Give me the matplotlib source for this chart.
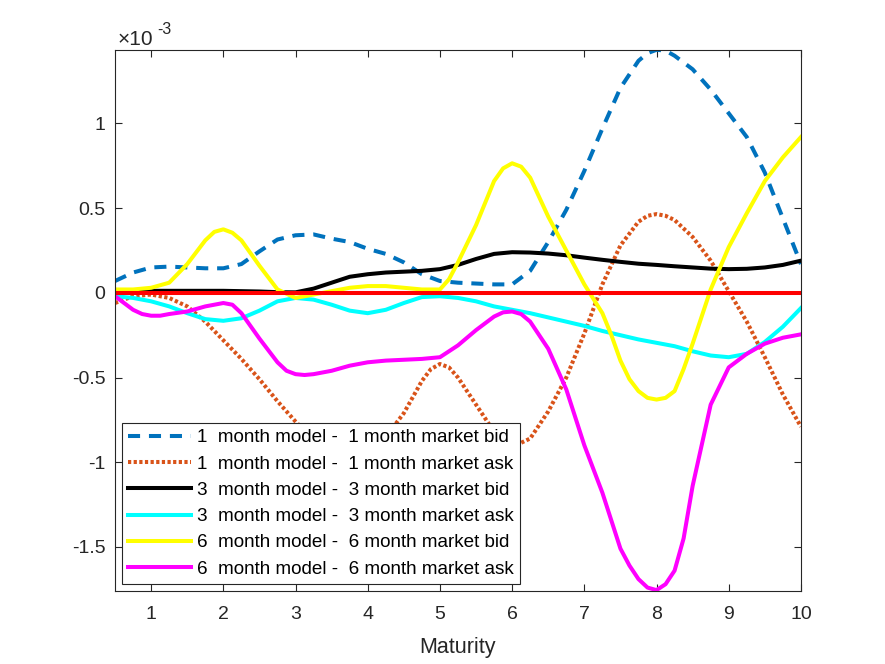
import numpy as np
import matplotlib
matplotlib.use('Agg')
import matplotlib.pyplot as plt

plt.rcParams['font.family'] = ['Liberation Sans', 'DejaVu Sans']

# maturity grids (years) and spread curves, values in units of 1e-3
grid = list(np.arange(0.5, 10.25, 0.25))

bid_1m_x = grid[:30] + [7.875] + [8.0, 8.125] + grid[31:]
bid_1m = [0.07, 0.12, 0.15, 0.155, 0.15, 0.145, 0.145,
          0.17, 0.245, 0.315, 0.34, 0.345, 0.32,
          0.30, 0.26, 0.23, 0.18, 0.11, 0.07,
          0.06, 0.055, 0.05, 0.05, 0.13, 0.30,
          0.49, 0.72, 0.97, 1.21, 1.37, 1.415, 1.435, 1.43,
          1.40, 1.32, 1.20, 1.06, 0.92, 0.71,
          0.44, 0.17]

ask_1m_x = (grid[:18] + [4.875, 5.0, 5.125] + grid[19:30]
            + [7.875, 8.0, 8.125] + grid[31:])
ask_1m = [-0.06, -0.02, -0.01, -0.03, -0.08, -0.17, -0.28,
          -0.39, -0.51, -0.64, -0.76, -0.87, -0.95,
          -0.98, -0.94, -0.85, -0.71, -0.52, -0.45, -0.42, -0.44,
          -0.50, -0.66, -0.82, -0.91, -0.86, -0.70,
          -0.50, -0.24, 0.05, 0.28, 0.42, 0.455, 0.465, 0.455,
          0.43, 0.33, 0.19, 0.01, -0.17, -0.38,
          -0.60, -0.79]

bid_3m_x = grid
bid_3m = [0.012, 0.012, 0.012, 0.012, 0.012, 0.012, 0.012,
          0.01, 0.008, 0.004, 0.003, 0.025, 0.06,
          0.095, 0.11, 0.12, 0.125, 0.13, 0.14,
          0.165, 0.2, 0.23, 0.24, 0.238, 0.232,
          0.222, 0.208, 0.195, 0.183, 0.172, 0.165,
          0.157, 0.15, 0.143, 0.14, 0.142, 0.15,
          0.165, 0.19]

ask_3m_x = grid
ask_3m = [-0.02, -0.03, -0.05, -0.08, -0.12, -0.155, -0.165,
          -0.15, -0.105, -0.05, -0.03, -0.04, -0.07,
          -0.105, -0.12, -0.10, -0.06, -0.025, -0.02,
          -0.03, -0.05, -0.08, -0.10, -0.12, -0.145,
          -0.17, -0.195, -0.225, -0.25, -0.275, -0.295,
          -0.315, -0.345, -0.37, -0.38, -0.36, -0.29,
          -0.20, -0.09]

bid_6m_x = [0.5, 0.75, 1, 1.25, 1.5, 1.75, 1.875, 2, 2.125, 2.25, 2.5, 2.75,
            3, 3.25, 3.5, 3.75, 4, 4.25, 4.5, 4.75, 5, 5.125, 5.25, 5.5,
            5.75, 5.875, 6, 6.125, 6.25, 6.5, 6.75, 7, 7.25, 7.375, 7.5,
            7.625, 7.75, 7.875, 8, 8.125, 8.25, 8.375, 8.5, 8.75, 9, 9.25,
            9.5, 9.75, 10]
bid_6m = [0.02, 0.02, 0.03, 0.06, 0.17, 0.31, 0.36, 0.375, 0.355, 0.31,
          0.16, 0.02, -0.03, -0.01, 0.01, 0.03, 0.04, 0.04, 0.03, 0.02,
          0.02, 0.08, 0.18, 0.40, 0.66, 0.735, 0.765, 0.745, 0.68, 0.45,
          0.25, 0.05, -0.12, -0.25, -0.40, -0.51, -0.58, -0.62, -0.63,
          -0.62, -0.58, -0.45, -0.30, 0.02, 0.27, 0.47, 0.66, 0.80, 0.92]

ask_6m_x = [0.5, 0.75, 0.875, 1, 1.125, 1.25, 1.5, 1.75, 2, 2.125, 2.25,
            2.5, 2.75, 2.875, 3, 3.125, 3.25, 3.5, 3.75, 4, 4.25, 4.5, 4.75,
            5, 5.25, 5.5, 5.75, 5.875, 6, 6.125, 6.25, 6.5, 6.75, 7, 7.25,
            7.5, 7.625, 7.75, 7.875, 8, 8.125, 8.25, 8.375, 8.5, 8.75, 9,
            9.25, 9.5, 9.75, 10]
ask_6m = [-0.02, -0.10, -0.125, -0.135, -0.135, -0.125, -0.11, -0.08,
          -0.06, -0.07, -0.12, -0.27, -0.41, -0.46, -0.48, -0.485, -0.48,
          -0.46, -0.43, -0.41, -0.40, -0.395, -0.39, -0.38, -0.31, -0.22,
          -0.14, -0.115, -0.11, -0.125, -0.17, -0.33, -0.57, -0.90, -1.18,
          -1.51, -1.61, -1.69, -1.74, -1.755, -1.72, -1.64, -1.45, -1.14,
          -0.66, -0.44, -0.36, -0.30, -0.265, -0.245]

zero_x = [0.5, 10]
zero_line = [0.0, 0.0]

labels = ['1  month model -  1 month market bid',
          '1  month model -  1 month market ask',
          '3  month model -  3 month market bid',
          '3  month model -  3 month market ask',
          '6  month model -  6 month market bid',
          '6  month model -  6 month market ask']

fig = plt.figure(figsize=(8.85, 6.64), dpi=100)
ax = fig.add_axes([0.13, 0.11, 0.775, 0.815])
lw = 2.9

ax.plot(bid_1m_x, bid_1m, color='#0072BD', lw=lw, dashes=(3.0, 2.2), label=labels[0])
ax.plot(ask_1m_x, ask_1m, color='#D95319', lw=lw, dashes=(0.8, 0.6), label=labels[1])
ax.plot(bid_3m_x, bid_3m, color='black', lw=lw, label=labels[2])
ax.plot(ask_3m_x, ask_3m, color='#00FFFF', lw=lw, label=labels[3])
ax.plot(bid_6m_x, bid_6m, color='#FFFF00', lw=lw, label=labels[4])
ax.plot(ask_6m_x, ask_6m, color='#FF00FF', lw=lw, label=labels[5])
ax.plot(zero_x, zero_line, color='#FF0000', lw=lw)

ax.set_xlim(0.5, 10)
ax.set_ylim(-1.76, 1.435)
ax.set_xticks(range(1, 11))
ax.set_yticks([-1.5, -1, -0.5, 0, 0.5, 1])
ax.set_yticklabels(['-1.5', '-1', '-0.5', '0', '0.5', '1'])

gray = '#262626'
for s in ax.spines.values():
    s.set_color(gray)
    s.set_linewidth(0.8)
ax.tick_params(direction='in', length=5, width=0.8, colors=gray,
               labelsize=14, top=True, right=True)
ax.tick_params(axis='x', pad=11)
ax.tick_params(axis='y', pad=7)
ax.set_xlabel('Maturity', fontsize=15.5, color=gray, labelpad=10)

# exponent label in the top left corner
ax.annotate('\u00d710', xy=(0, 1), xycoords='axes fraction',
            xytext=(1.5, 3.6), textcoords='offset points',
            fontsize=15, color=gray, ha='left', va='baseline')
ax.annotate('-3', xy=(0, 1), xycoords='axes fraction',
            xytext=(30.5, 11.5), textcoords='offset points',
            fontsize=11.5, color=gray, ha='left', va='baseline')

leg = ax.legend(loc='lower left', bbox_to_anchor=(0.0102, 0.0129),
                borderaxespad=0, fontsize=13.6, handlelength=3.3,
                handletextpad=0.32, borderpad=0.33, labelspacing=0.48,
                fancybox=False, framealpha=1, edgecolor=gray)
leg.get_frame().set_linewidth(0.8)
for t in leg.get_texts():
    t.set_color('black')

fig.savefig('out.png', dpi=100)
